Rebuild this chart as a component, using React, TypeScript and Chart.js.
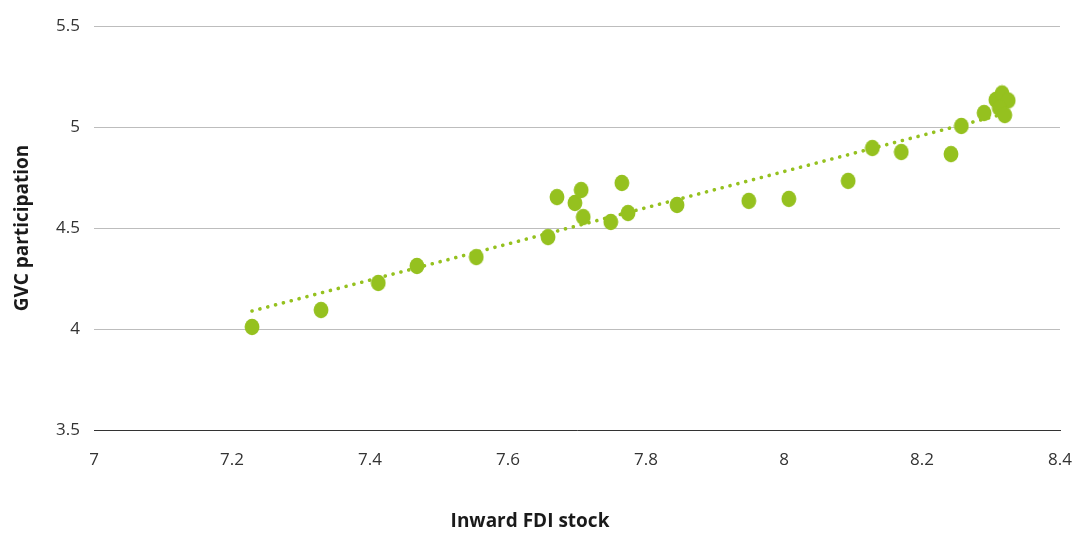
import React, { useEffect, useRef } from "react";
import { Chart, registerables } from "chart.js";

Chart.register(...registerables);

const fdiStock = [7.229, 7.329, 7.412, 7.468, 7.554, 7.658, 7.671, 7.697, 7.706, 7.709, 7.749, 7.765, 7.774, 7.845, 7.949, 8.007, 8.093, 8.128, 8.17, 8.242, 8.257, 8.29, 8.307, 8.316, 8.325, 8.312, 8.32];
const gvcParticipation = [4.01, 4.094, 4.228, 4.312, 4.356, 4.455, 4.653, 4.624, 4.688, 4.554, 4.53, 4.723, 4.574, 4.614, 4.634, 4.644, 4.733, 4.896, 4.876, 4.866, 5.005, 5.069, 5.134, 5.166, 5.131, 5.094, 5.059];
const trendX = [7.229, 8.32];
const trendY = [4.089, 5.066];

const xTicks = [7, 7.2, 7.4, 7.6, 7.8, 8, 8.2, 8.4];
const yTicks = [3.5, 4, 4.5, 5, 5.5];

const GREEN = "#95c11f";
const FONT = "'Open Sans'";

function makeEllipse(): HTMLCanvasElement {
  const c = document.createElement("canvas");
  c.width = 16;
  c.height = 18;
  const ctx = c.getContext("2d")!;
  ctx.fillStyle = GREEN;
  ctx.beginPath();
  ctx.ellipse(8, 9, 7.4, 8.3, 0, 0, Math.PI * 2);
  ctx.fill();
  return c;
}

const fmt = (v: any) => String(Math.round(Number(v) * 10) / 10);

export default function App() {
  const ref = useRef<HTMLCanvasElement | null>(null);
  useEffect(() => {
    if (!ref.current) return;
    const pt = makeEllipse();
    const chart = new Chart(ref.current, {
      type: "scatter",
      data: {
        datasets: [
          {
            type: "line",
            data: trendX.map((x, i) => ({ x, y: trendY[i] })),
            borderColor: GREEN,
            borderWidth: 3.6,
            borderDash: [0.1, 8],
            borderCapStyle: "round",
            pointRadius: 0,
            fill: false,
            order: 2,
          } as any,
          {
            data: fdiStock.map((x, i) => ({ x, y: gvcParticipation[i] })),
            pointStyle: pt as any,
            pointRadius: 8,
            backgroundColor: GREEN,
            borderColor: GREEN,
            order: 1,
          },
        ],
      },
      options: {
        responsive: false,
        animation: false,
        layout: { padding: { left: 0, right: 15, top: 26, bottom: 0 } },
        plugins: {
          legend: { display: false },
          tooltip: { enabled: false },
          title: {
            display: true,
            position: "bottom",
            text: "Inward FDI stock",
            color: "#1a1a1a",
            font: { family: FONT, size: 19, weight: "bold" as any, lineHeight: 1.2 },
            padding: { top: 0, bottom: 0 },
          },
        },
        scales: {
          x: {
            type: "linear",
            min: 7,
            max: 8.4,
            afterBuildTicks: (s: any) => {
              s.ticks = xTicks.map((v) => ({ value: v }));
            },
            afterFit: (s: any) => {
              s.height = 533 - 22.8 - 430;
              s.paddingLeft = 0;
              s.paddingRight = 0;
            },
            grid: { display: false, drawTicks: false },
            border: { display: true, color: "#333333", width: 1 },
            ticks: {
              color: "#333333",
              padding: 20,
              font: { family: FONT, size: 17 },
              maxRotation: 0,
              autoSkip: false,
              callback: fmt,
            },
          },
          y: {
            type: "linear",
            min: 3.5,
            max: 5.5,
            afterBuildTicks: (s: any) => {
              s.ticks = yTicks.map((v) => ({ value: v }));
            },
            afterFit: (s: any) => {
              s.width = 94;
              s.paddingTop = 0;
              s.paddingBottom = 0;
            },
            grid: { color: "#bdbdbd", lineWidth: 1, drawTicks: false },
            border: { display: false },
            ticks: {
              color: "#333333",
              padding: 14,
              font: { family: FONT, size: 17 },
              callback: fmt,
            },
            title: {
              display: true,
              text: "GVC participation",
              color: "#1a1a1a",
              font: { family: FONT, size: 19, weight: "bold" as any, lineHeight: 1.2 },
              padding: { top: 11, bottom: 0 },
            },
          },
        },
      },
    });
    return () => chart.destroy();
  }, []);
  return (
    <div style={{ position: "fixed", left: 0, top: 0, width: 1075, height: 533, background: "#fff" }}>
      <canvas ref={ref} width={1075} height={533} style={{ display: "block" }} />
    </div>
  );
}
